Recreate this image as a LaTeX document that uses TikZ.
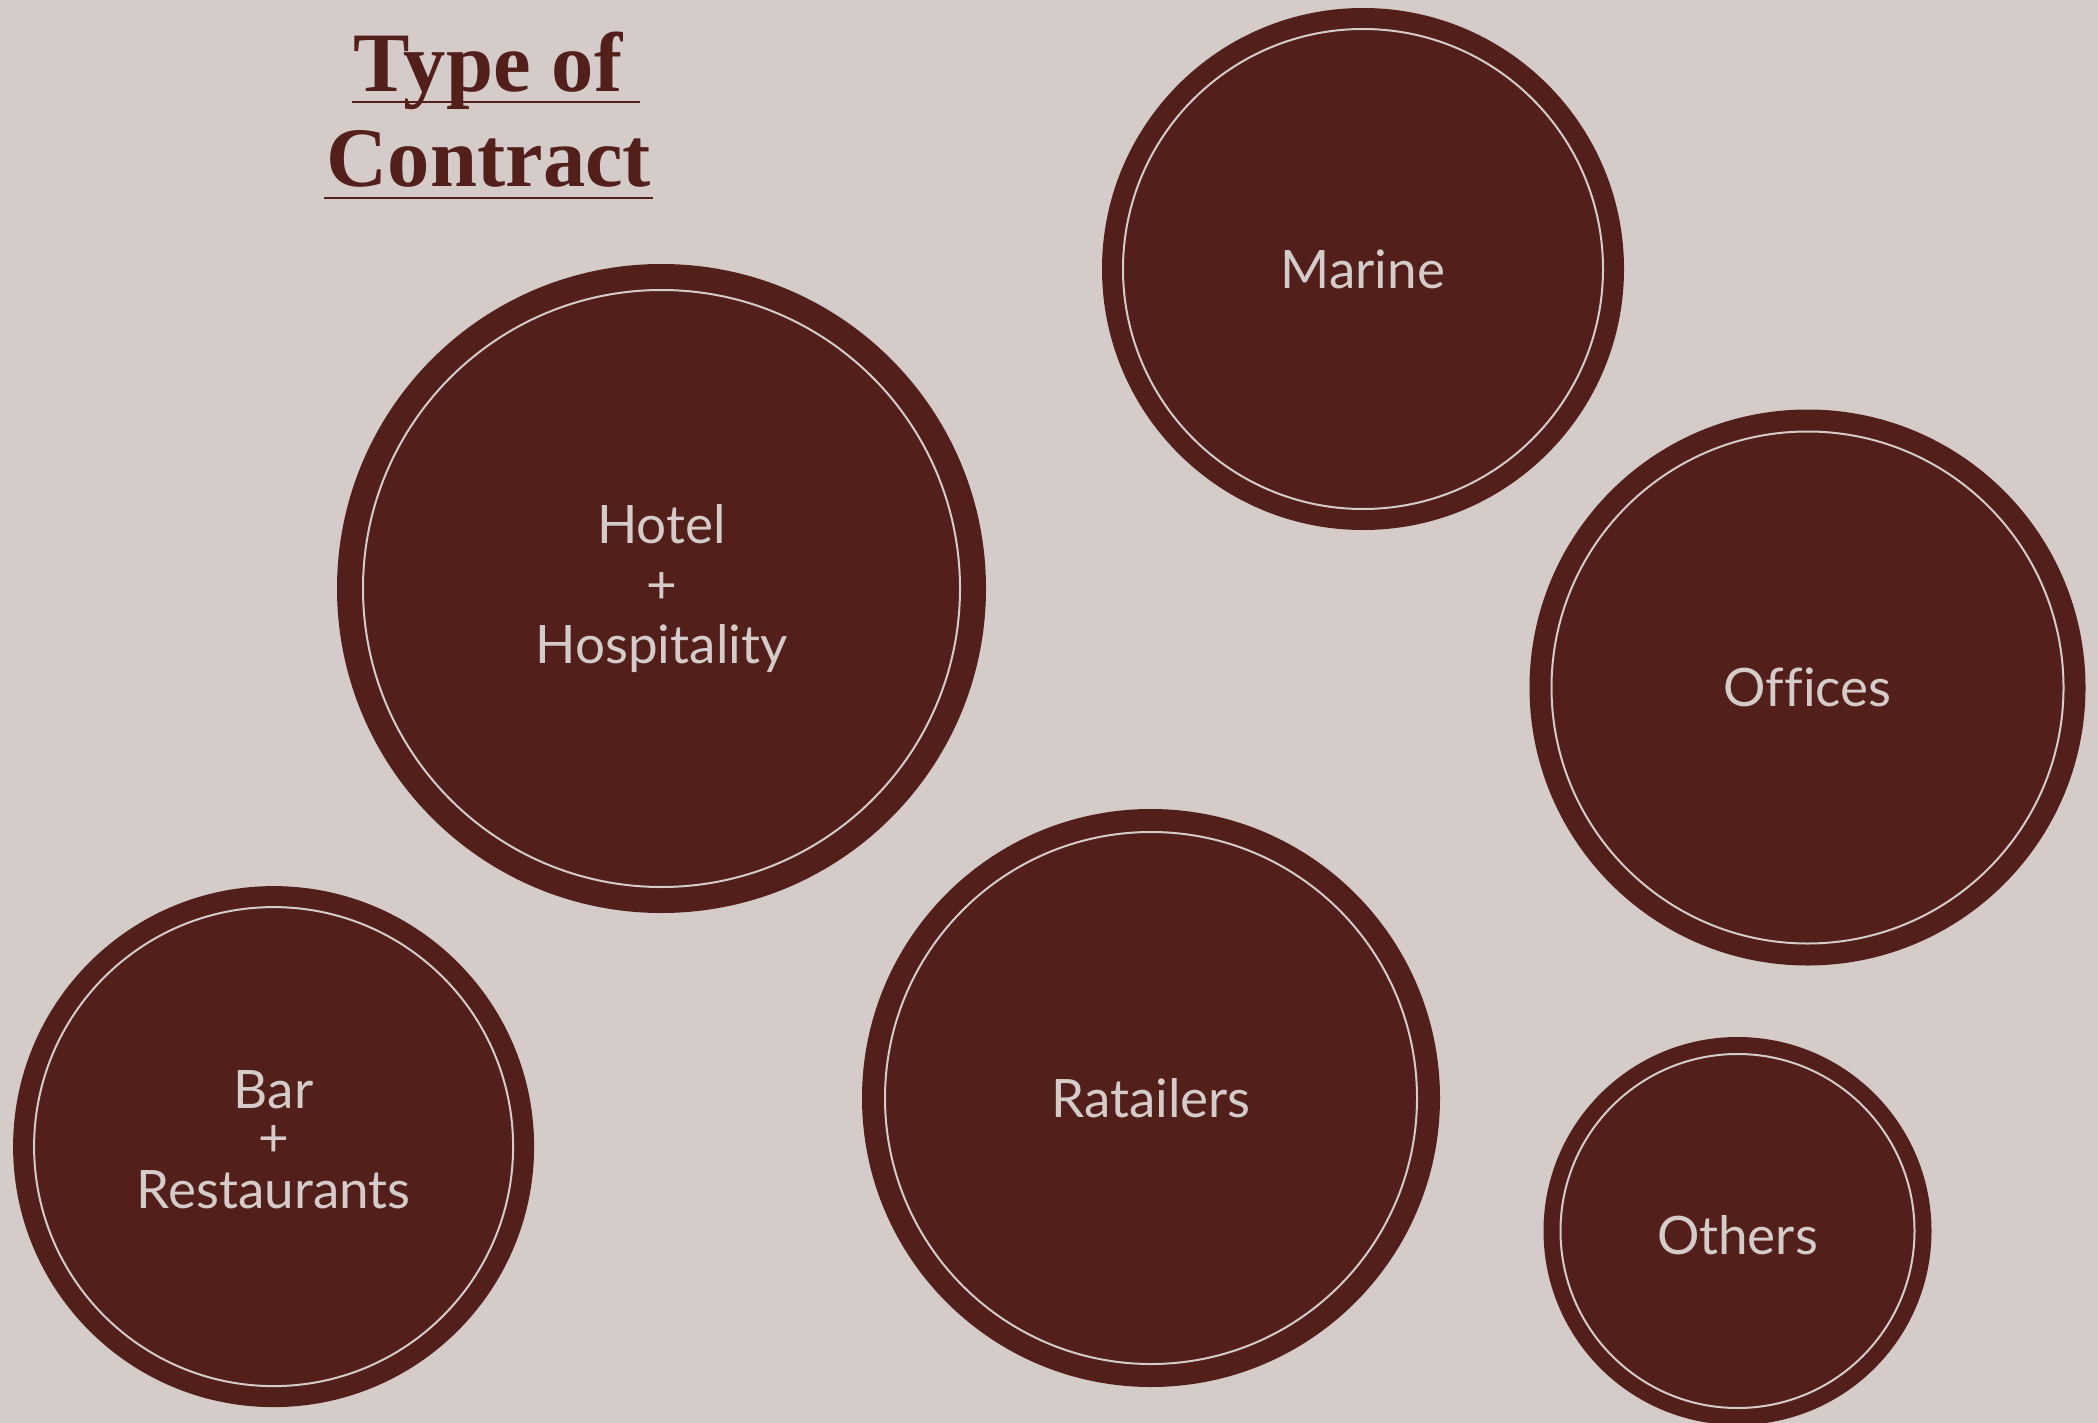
\documentclass[tikz,border=0pt]{standalone}
\usepackage{fontspec}
\setmainfont{Liberation Serif}
\newfontfamily\labelfont[Ligatures=NoCommon]{Lato}
\definecolor{bg}{HTML}{D5CCC9}
\definecolor{wine}{HTML}{521F1B}
\tikzset{
  disc/.style={circle, fill=wine, draw=none, inner sep=0pt, text=bg, align=center,
    font=\labelfont\fontsize{53}{60}\selectfont},
  ring/.style={draw=bg, line width=2pt},
  titletext/.style={inner sep=0pt, anchor=base, text=wine,
    font=\bfseries\fontsize{84.6}{95}\selectfont},
  uline/.style={draw=wine, line width=2pt}
}
\begin{document}
\begin{tikzpicture}[x=1pt,y=-1pt]
\fill[bg] (0,0) rectangle (2098,1423);
\useasboundingbox (0,0) rectangle (2098,1423);

% title
\node[titletext] (t1) at (488,91.7) {Type of};
\node[titletext] (t2) at (489,186.7) {Contract};
\draw[uline] ([xshift=-1pt,yshift=-10pt]t1.base west) -- ([xshift=17pt,yshift=-10pt]t1.base east);
\draw[uline] ([xshift=-3pt,yshift=-11pt]t2.base west) -- ([xshift=2pt,yshift=-11pt]t2.base east);

% circles
\node[disc, minimum size=649pt] (hotel) at (661.5,588.5) {Hotel\\+\\Hospitality};
\draw[ring] (hotel.center) circle[radius=298.5];

\node[disc, minimum size=522pt] (marine) at (1363,269) {Marine};
\draw[ring] (marine.center) circle[radius=240];

\node[disc, minimum size=556pt, text height=38pt, text depth=0pt] (offices) at (1807.5,687.5) {Offices};
\draw[ring] (offices.center) circle[radius=256];

\node[disc, minimum size=521pt, font=\labelfont\fontsize{53}{48}\selectfont] (bar) at (273.6,1146.6)
  {\raisebox{10pt}{\begin{tabular}{@{}c@{}}Bar\\+\\Restaurants\end{tabular}}};
\draw[ring] (bar.center) circle[radius=239.5];

\node[disc, minimum size=578pt] (ratailers) at (1151,1098) {Ratailers};
\draw[ring] (ratailers.center) circle[radius=266];

\node[disc, minimum size=388pt, text height=38pt, text depth=0pt] (others) at (1737.5,1231) {\raisebox{-4pt}{Others}};
\draw[ring] (others.center) circle[radius=177];
\end{tikzpicture}
\end{document}
